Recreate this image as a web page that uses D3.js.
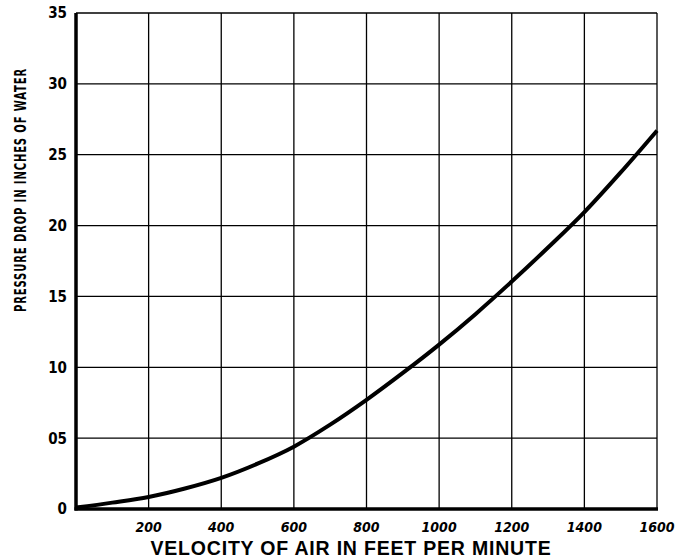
<!DOCTYPE html>
<html>
<head>
<meta charset="utf-8">
<script src="https://cdn.jsdelivr.net/npm/d3@7"></script>
<style>
  body { margin: 0; background: #fff; }
  svg { display: block; }
</style>
</head>
<body>
<div id="chart"></div>
<script>
// velocity of air (ft/min) vs pressure drop (in. of water)
var velocity = [0, 100, 200, 300, 400, 500, 600, 700, 800, 900, 1000, 1100, 1200, 1300, 1400, 1500, 1600];
var pressure = [0.1, 0.45, 0.85, 1.45, 2.2, 3.2, 4.4, 5.95, 7.7, 9.6, 11.6, 13.75, 16.05, 18.45, 20.95, 23.75, 26.7];

var xTicks = [200, 400, 600, 800, 1000, 1200, 1400, 1600];
var yTicks = [0, 5, 10, 15, 20, 25, 30, 35];
var yTickLabels = ["0", "05", "10", "15", "20", "25", "30", "35"];

var width = 690, height = 560;
var margin = { top: 13, right: 33, bottom: 51, left: 76 };

var svg = d3.select("#chart").append("svg")
	.attr("width", width)
	.attr("height", height);

var x = d3.scaleLinear().domain([0, 1600]).range([margin.left, width - margin.right]);
var y = d3.scaleLinear().domain([0, 35]).range([height - margin.bottom, margin.top]);

var narrow = "'Liberation Sans Narrow', 'DejaVu Sans Condensed', Arial, sans-serif";

// grid: vertical lines every 200, horizontal every 5
svg.append("g")
	.selectAll("line")
	.data(xTicks)
	.enter().append("line")
	.attr("x1", function(d) { return x(d); })
	.attr("x2", function(d) { return x(d); })
	.attr("y1", y(0))
	.attr("y2", y(35))
	.attr("stroke", "#000")
	.attr("stroke-width", 1.3);

svg.append("g")
	.selectAll("line")
	.data(yTicks.slice(1))
	.enter().append("line")
	.attr("x1", x(0))
	.attr("x2", x(1600))
	.attr("y1", function(d) { return y(d); })
	.attr("y2", function(d) { return y(d); })
	.attr("stroke", "#000")
	.attr("stroke-width", 1.3);

// heavy left and bottom axes
svg.append("line")
	.attr("x1", x(0)).attr("x2", x(0))
	.attr("y1", y(35)).attr("y2", y(0) + 1.5)
	.attr("stroke", "#000").attr("stroke-width", 3.5);
svg.append("line")
	.attr("x1", x(0) - 1.5).attr("x2", x(1600) + 1)
	.attr("y1", y(0)).attr("y2", y(0))
	.attr("stroke", "#000").attr("stroke-width", 3.5);

// tick labels
svg.append("g")
	.selectAll("text")
	.data(yTicks)
	.enter().append("text")
	.attr("x", 67)
	.attr("y", function(d) { return y(d); })
	.attr("dy", "0.36em")
	.attr("text-anchor", "end")
	.attr("font-family", narrow)
	.attr("font-weight", "bold")
	.attr("font-size", 15)
	.text(function(d, i) { return yTickLabels[i]; });

svg.append("g")
	.selectAll("text")
	.data(xTicks)
	.enter().append("text")
	.attr("x", function(d) { return x(d); })
	.attr("y", 532)
	.attr("text-anchor", "middle")
	.attr("font-family", narrow)
	.attr("font-weight", "bold")
	.attr("font-style", "italic")
	.attr("font-size", 14)
	.text(function(d) { return d; });

// axis titles
svg.append("text")
	.attr("x", 351)
	.attr("y", 555)
	.attr("text-anchor", "middle")
	.attr("font-family", "'Liberation Sans', Arial, sans-serif")
	.attr("font-weight", "bold")
	.attr("font-size", 19.5)
	.attr("letter-spacing", 0.8)
	.text("VELOCITY OF AIR IN FEET PER MINUTE");

// condensed, letter-spaced y title
svg.append("text")
	.attr("transform", "translate(26,190) rotate(-90) scale(0.7,1)")
	.attr("text-anchor", "middle")
	.attr("font-family", narrow)
	.attr("font-weight", "bold")
	.attr("font-size", 16)
	.attr("letter-spacing", 1.2)
	.text("PRESSURE DROP IN INCHES OF WATER");

// the curve
var line = d3.line()
	.x(function(d) { return x(d[0]); })
	.y(function(d) { return y(d[1]); })
	.curve(d3.curveMonotoneX);

svg.append("path")
	.datum(d3.zip(velocity, pressure))
	.attr("d", line)
	.attr("fill", "none")
	.attr("stroke", "#000")
	.attr("stroke-width", 4);
</script>
</body>
</html>
